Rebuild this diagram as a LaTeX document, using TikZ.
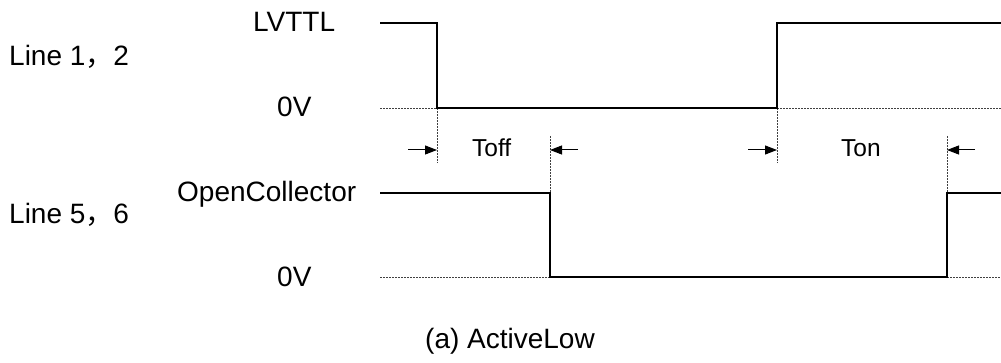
\documentclass[tikz,border=0pt]{standalone}
\usepackage{fontspec}
\setmainfont{Liberation Sans}
\newfontfamily\cjk{Noto Sans CJK SC}
\usetikzlibrary{arrows.meta}
\begin{document}
\begin{tikzpicture}[x=1pt,y=-1pt,
  sig/.style={line width=1.6pt, line join=miter},
  zeroline/.style={line width=0.9pt, dash pattern=on 2pt off 1pt, black!75},
  guide/.style={line width=0.9pt, dash pattern=on 2pt off 1pt, black!75},
  dimarrow/.style={line width=1pt, -{Triangle[length=12pt,width=9pt]}},
  lbl/.style={font=\fontsize{28}{31}\selectfont, inner sep=0pt, anchor=base west},
  tlbl/.style={font=\fontsize{24.5}{27}\selectfont, inner sep=0pt, anchor=base west}]
\useasboundingbox (0,0) rectangle (1001,363);
% labels
\node[lbl] (lvttl) at (253,32) {LVTTL};
\node[lbl] (line12) at (9,66) {Line 1{\cjk ，}2};
\node[lbl] (zeroA) at (277,117) {0V};
\node[lbl] (oc) at (177,202) {OpenCollector};
\node[lbl] (line56) at (9,224) {Line 5{\cjk ，}6};
\node[lbl] (zeroB) at (277,287) {0V};
\node[tlbl] (toff) at (472,157) {Toff};
\node[tlbl] (ton) at (841,157) {Ton};
\node[lbl] (cap) at (425,348) {(a) ActiveLow};
% top signal coordinates
\coordinate (a0) at (380,23);
\coordinate (a1) at (437,23);
\coordinate (a2) at (437,108);
\coordinate (a3) at (777,108);
\coordinate (a4) at (777,23);
\coordinate (a5) at (1001,23);
\coordinate (a0z) at (380,108);
\coordinate (a5z) at (1001,108);
% bottom signal coordinates
\coordinate (b0) at (380,193);
\coordinate (b1) at (550,193);
\coordinate (b2) at (550,277);
\coordinate (b3) at (947,277);
\coordinate (b4) at (947,193);
\coordinate (b5) at (1001,193);
\coordinate (b0z) at (380,277);
\coordinate (b5z) at (1001,277);
% guide ends
\coordinate (g1) at (437,163);
\coordinate (g2) at (777,163);
\coordinate (g3) at (550,136);
\coordinate (g4) at (947,136);
% arrow tails and tips
\coordinate (t1s) at (408,150); \coordinate (t1e) at (437,150);
\coordinate (t2s) at (578,150); \coordinate (t2e) at (550,150);
\coordinate (t3s) at (748,150); \coordinate (t3e) at (777,150);
\coordinate (t4s) at (975,150); \coordinate (t4e) at (947,150);
% zero lines
\draw[zeroline] (a0z) -- (a2);
\draw[zeroline] (a3) -- (a5z);
\draw[zeroline] (b0z) -- (b2);
\draw[zeroline] (b3) -- (b5z);
% guides
\draw[guide] (a2) -- (g1);
\draw[guide] (a3) -- (g2);
\draw[guide] (g3) -- (b1);
\draw[guide] (g4) -- (b4);
% signals
\draw[sig] (a0) -- (a1) -- (a2) -- (a3) -- (a4) -- (a5);
\draw[sig] (b0) -- (b1) -- (b2) -- (b3) -- (b4) -- (b5);
% arrows
\draw[dimarrow] (t1s) -- (t1e);
\draw[dimarrow] (t2s) -- (t2e);
\draw[dimarrow] (t3s) -- (t3e);
\draw[dimarrow] (t4s) -- (t4e);
\end{tikzpicture}
\end{document}
